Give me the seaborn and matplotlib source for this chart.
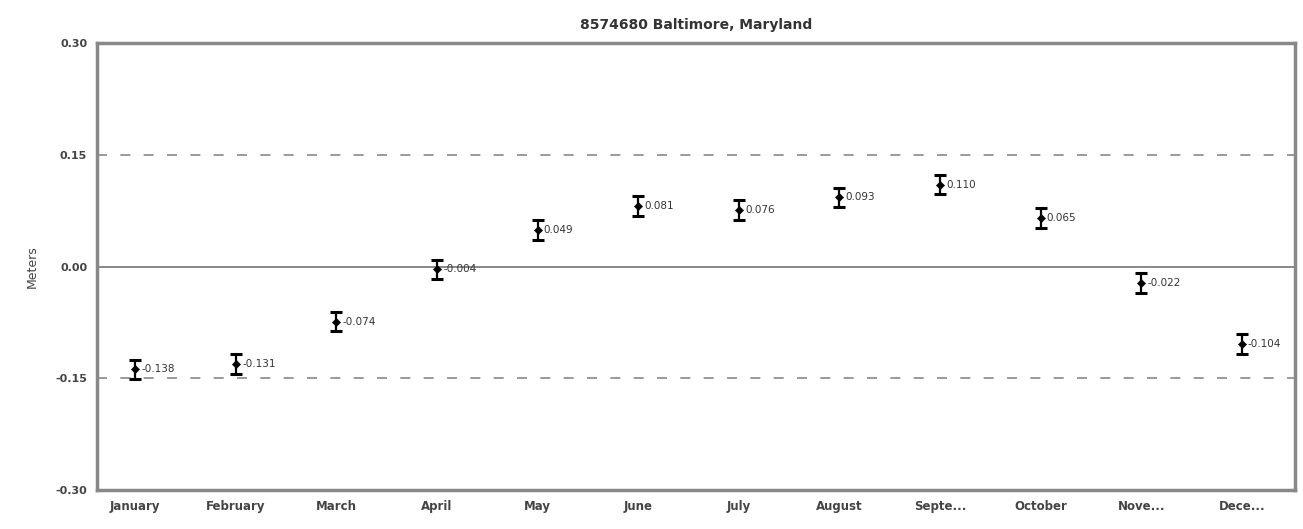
import matplotlib
matplotlib.use("Agg")
import matplotlib.pyplot as plt
import seaborn as sns
import pandas as pd

months = ["January", "February", "March", "April", "May", "June", "July",
          "August", "Septe...", "October", "Nove...", "Dece..."]
values = [-0.138, -0.131, -0.074, -0.004, 0.049, 0.081, 0.076, 0.093, 0.110, 0.065, -0.022, -0.104]
errors = [0.013, 0.013, 0.013, 0.013, 0.013, 0.013, 0.013, 0.013, 0.013, 0.013, 0.013, 0.013]
yticks = [-0.30, -0.15, 0.00, 0.15, 0.30]
ytick_labels = ["-0.30", "-0.15", "0.00", "0.15", "0.30"]
title = "8574680 Baltimore, Maryland"

df = pd.DataFrame({"month": months, "value": values, "err": errors})

sns.set_style("white")
plt.rcParams['font.family'] = ['DejaVu Sans']

fig = plt.figure(figsize=(13.03, 5.29), dpi=100)
ax = fig.add_axes([0.0744, 0.0737, 0.9195, 0.845])

x = list(range(len(months)))
ax.axhline(0.15, color="#888888", lw=1.2, ls=(0, (6, 8)), zorder=1)
ax.axhline(-0.15, color="#888888", lw=1.2, ls=(0, (6, 8)), zorder=1)
ax.axhline(0.0, color="#888888", lw=1.4, zorder=1)

ax.errorbar(x, df["value"], yerr=df["err"], fmt="none", ecolor="black",
            elinewidth=1.6, capsize=4.5, capthick=2.2, zorder=3)
sns.scatterplot(x=x, y=df["value"], ax=ax, color="black", marker="D", s=18,
                edgecolor="black", zorder=4, legend=False)

for xi, v in zip(x, values):
    ax.annotate(f"{v:.3f}", (xi, v), xytext=(4.5, 0), textcoords="offset points",
                va="center", ha="left", fontsize=7.5, color="#333333", zorder=5)

ax.set_xlim(-0.38, 11.53)
ax.set_ylim(-0.30, 0.30)
ax.set_xticks(x)
ax.set_xticklabels(months, fontsize=8.5, color="#444444", fontweight="bold")
ax.set_yticks(yticks)
ax.set_yticklabels(ytick_labels, fontsize=8, color="#444444", fontweight="bold")
ax.tick_params(axis="both", length=3, color="#aaaaaa", pad=4)
ax.set_ylabel("Meters", fontsize=9, color="#444444", labelpad=12)
ax.set_xlabel("")
ax.set_title(title, fontsize=10, color="#333333", fontweight="bold", pad=10)

for s in ax.spines.values():
    s.set_color("#888888")
    s.set_linewidth(2.5)

fig.savefig("out.png", dpi=100)
